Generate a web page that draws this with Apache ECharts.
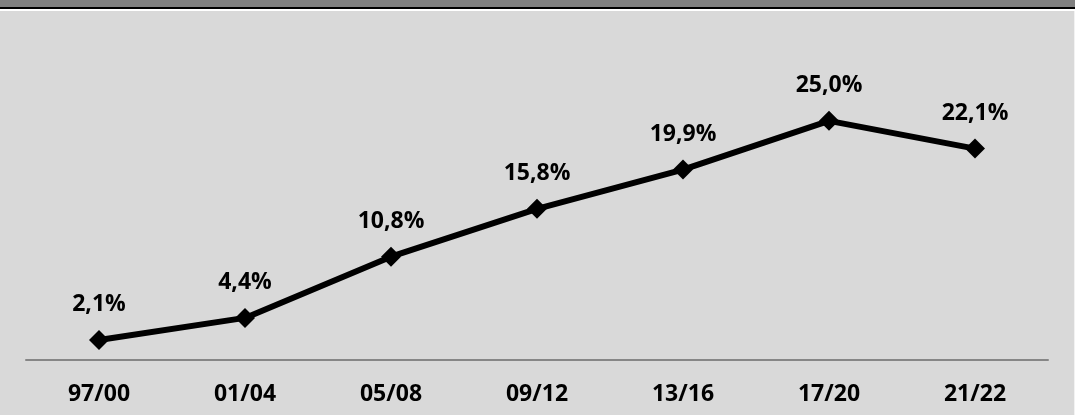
<!DOCTYPE html>
<html><head><meta charset="utf-8">
<script src="https://cdn.jsdelivr.net/npm/echarts@6/dist/echarts.min.js"></script>
<style>html,body{margin:0;padding:0;background:#d9d9d9}#c{width:1075px;height:415px}</style>
</head><body><div id="c"></div>
<script>
const categories = ['97/00','01/04','05/08','09/12','13/16','17/20','21/22'];
const values = [2.1, 4.4, 10.8, 15.8, 19.9, 25.0, 22.1];

const chart = echarts.init(document.getElementById('c'), null, {renderer:'canvas'});
chart.setOption({
  backgroundColor: '#d9d9d9',
  animation: false,
  graphic: [
    {type:'rect', shape:{x:0,y:0,width:1075,height:7}, style:{fill:'#808080'}, silent:true},
    {type:'rect', shape:{x:0,y:7,width:1075,height:2}, style:{fill:'#000000'}, silent:true},
    {type:'rect', shape:{x:0,y:9,width:1075,height:2}, style:{fill:'#ffffff'}, silent:true},
    {type:'rect', shape:{x:1074,y:11,width:1,height:404}, style:{fill:'#f2f2f2'}, silent:true}
  ],
  grid: {left: 26, right: 27, top: 73, bottom: 55},
  xAxis: {
    type: 'category',
    data: categories,
    boundaryGap: true,
    axisLine: {show: true, lineStyle: {color: '#868686', width: 2}},
    axisTick: {show: false},
    axisLabel: {color: '#000', fontWeight: 'bold', fontSize: 23, fontFamily: 'Open Sans', margin: 23}
  },
  yAxis: {
    type: 'value', min: 0, max: 30,
    show: false,
    splitLine: {show: false}
  },
  series: [{
    type: 'line',
    data: values,
    symbol: 'diamond',
    symbolSize: [20, 20],
    itemStyle: {color: '#000'},
    lineStyle: {color: '#000', width: 6},
    label: {
      show: true, position: 'top', distance: 14,
      color: '#000', fontWeight: 'bold', fontSize: 23, fontFamily: 'Open Sans',
      formatter: p => p.value.toFixed(1).replace('.', ',') + '%'
    }
  }]
});
</script></body></html>
